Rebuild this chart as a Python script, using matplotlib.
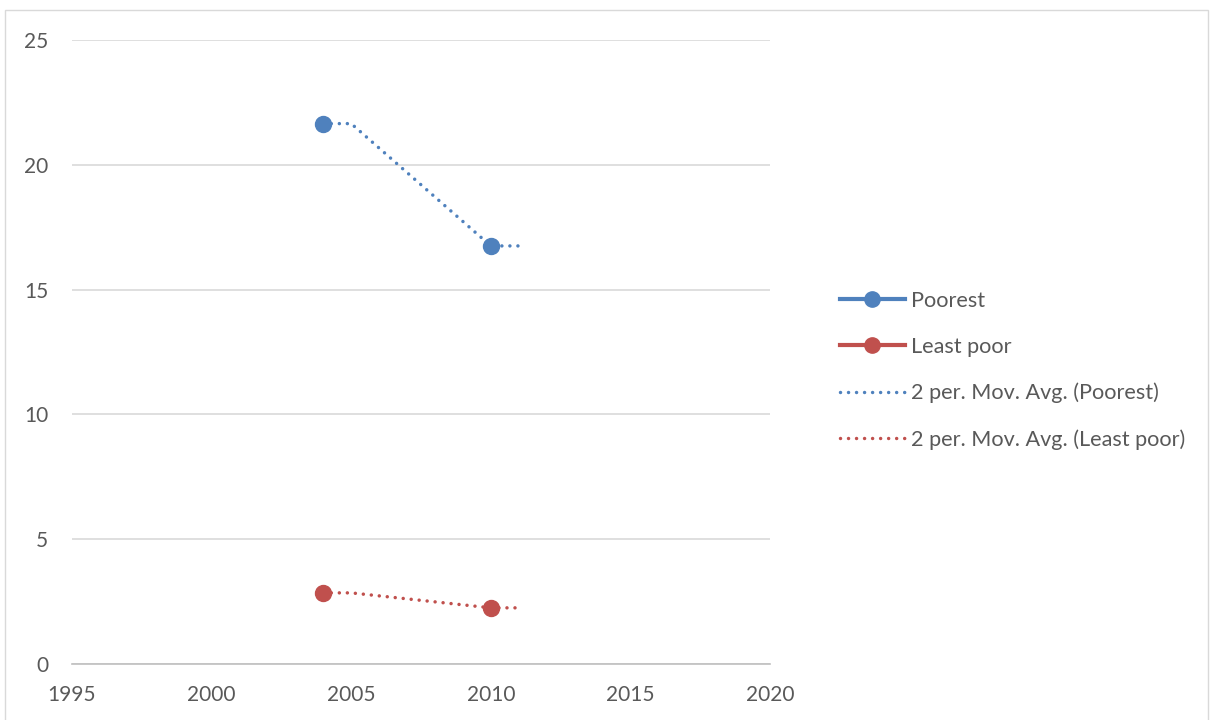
import matplotlib
matplotlib.use("Agg")
import matplotlib.pyplot as plt
from matplotlib.lines import Line2D
from matplotlib.patches import Rectangle

plt.rcParams['font.family'] = ['Lato', 'DejaVu Sans']

years = [2004, 2010]
poorest = [21.65, 16.75]
least_poor = [2.85, 2.25]

# moving-average trendline vertices as drawn
ma_years = [2004, 2005, 2010, 2011]
ma_poorest = [21.65, 21.65, 16.75, 16.75]
ma_least_poor = [2.85, 2.85, 2.25, 2.25]

labels = ["Poorest", "Least poor", "2 per. Mov. Avg. (Poorest)", "2 per. Mov. Avg. (Least poor)"]
xticks = [1995, 2000, 2005, 2010, 2015, 2020]
yticks = [0, 5, 10, 15, 20, 25]

blue = "#4F81BD"
red = "#C0504D"
text_c = "#595959"

fig = plt.figure(figsize=(12.12, 7.2), dpi=100)
ax = fig.add_axes([72/1212, 1-664/720, (770-72)/1212, (664-40)/720])

dot = (0, (0.01, 2.3))
dlw = 2.5
ax.plot(ma_years, ma_poorest, color=blue, lw=dlw, linestyle=dot, dash_capstyle='round', zorder=3)
ax.plot(ma_years, ma_least_poor, color=red, lw=dlw, linestyle=dot, dash_capstyle='round', zorder=3)
ax.plot(years, poorest, linestyle='none', marker='o', ms=11.5, color=blue, zorder=4)
ax.plot(years, least_poor, linestyle='none', marker='o', ms=11.5, color=red, zorder=4)

ax.set_xlim(1995, 2020)
ax.set_ylim(0, 25)
ax.set_xticks(xticks)
ax.set_yticks(yticks)
ax.tick_params(length=0, labelsize=15, colors=text_c)
ax.tick_params(axis='y', pad=17)
ax.tick_params(axis='x', pad=15)
ax.grid(axis='y', color="#D9D9D9", lw=1.2)
ax.set_axisbelow(True)
for s in ['top', 'right', 'left']:
    ax.spines[s].set_visible(False)
ax.spines['bottom'].set_color("#BFBFBF")
ax.spines['bottom'].set_linewidth(1.2)

handles = [
    Line2D([], [], color=blue, lw=3, marker='o', ms=11),
    Line2D([], [], color=red, lw=3, marker='o', ms=11),
    Line2D([], [], color=blue, lw=dlw, linestyle=dot, dash_capstyle='round'),
    Line2D([], [], color=red, lw=dlw, linestyle=dot, dash_capstyle='round'),
]
leg = fig.legend(handles, labels, loc='upper left', bbox_to_anchor=(831/1212, 1-282/720),
                 frameon=False, fontsize=15.6, handlelength=3.0, handletextpad=0.3,
                 labelspacing=1.2, labelcolor=text_c, borderaxespad=0)

fig.patches.append(Rectangle((5/1212, -0.01), (1208-5)/1212, 1.01-10/720, transform=fig.transFigure,
                             fill=False, edgecolor="#D9D9D9", lw=1))

fig.savefig("out.png", dpi=100)
